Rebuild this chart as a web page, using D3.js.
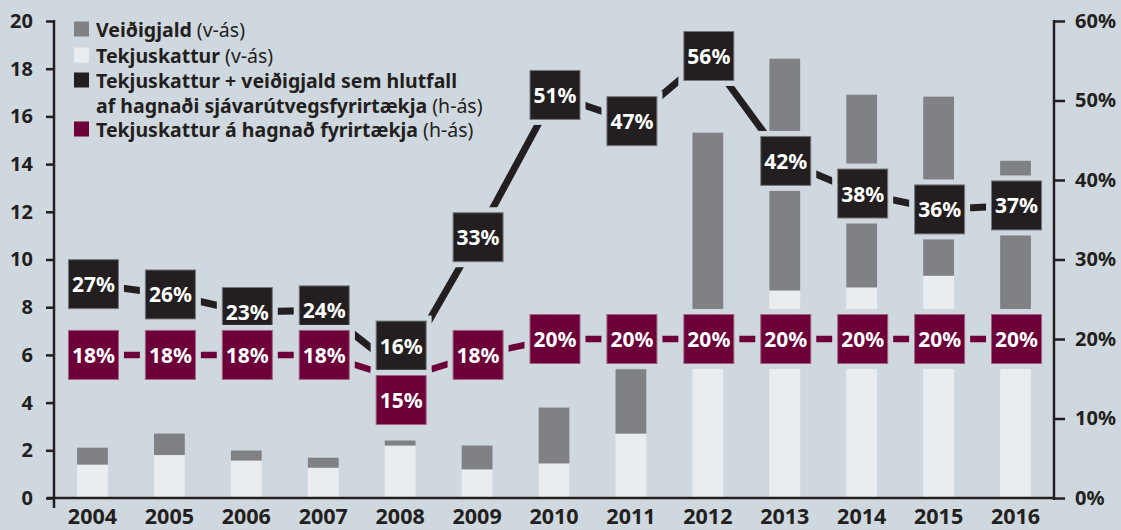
<!DOCTYPE html>
<html>
<head>
<meta charset="utf-8">
<script src="https://cdn.jsdelivr.net/npm/d3@7"></script>
<style>
html,body{margin:0;padding:0;background:#cfd8de;}
svg{display:block;}
text{font-family:"Noto Sans",Lato,sans-serif;}
</style>
</head>
<body>
<svg id="chart" width="1121" height="530"></svg>
<script>
// ---- data ----
const years = ["2004","2005","2006","2007","2008","2009","2010","2011","2012","2013","2014","2015","2016"];
const tekjuskattur = [1.40, 1.80, 1.57, 1.27, 2.20, 1.20, 1.45, 2.70, 7.00, 8.70, 8.83, 9.32, 7.50];
const veidigjald   = [0.71, 0.90, 0.42, 0.42, 0.21, 1.00, 2.34, 2.70, 8.32, 9.72, 8.08, 7.51, 6.64];
const hlutfallSjavar = [26.9, 25.6, 23.4, 23.6, 16.0, 32.8, 50.7, 47.4, 55.6, 42.4, 38.3, 36.3, 36.8];
const skatthlutfall  = [18, 18, 18, 18, 15, 18, 20, 20, 20, 20, 20, 20, 20];
const leftTicks = [0, 2, 4, 6, 8, 10, 12, 14, 16, 18, 20];
const rightTicks = [0, 10, 20, 30, 40, 50, 60];
const legendItems = [
  {name: "Veiðigjald", note: " (v-ás)", color: "#808184"},
  {name: "Tekjuskattur", note: " (v-ás)", color: "#e9edef"},
  {name: "Tekjuskattur + veiðigjald sem hlutfall", name2: "af hagnaði sjávarútvegsfyrirtækja", note: " (h-ás)", color: "#231f20"},
  {name: "Tekjuskattur á hagnað fyrirtækja", note: " (h-ás)", color: "#6d0038"}
];

// ---- setup ----
const BG = "#cfd8de", INK = "#231f20", GRAY = "#808184", LIGHT = "#e9edef", PURPLE = "#6d0038";
const FONT = "'Noto Sans', Lato, sans-serif";
const svg = d3.select("#chart");
svg.append("rect").attr("width", 1121).attr("height", 530).attr("fill", BG);

const x = d3.scaleBand().domain(years).range([54, 1054]).paddingInner(0.6).paddingOuter(0.3);
const cx = d => x(d) + x.bandwidth() / 2;
const yL = d3.scaleLinear().domain([0, 20]).range([498, 21]);
const yR = d3.scaleLinear().domain([0, 60]).range([498, 21]);

// ---- bars ----
const bars = svg.append("g");
years.forEach((yr, i) => {
  const t = tekjuskattur[i], v = veidigjald[i];
  bars.append("rect").attr("x", x(yr)).attr("width", x.bandwidth())
    .attr("y", yL(t)).attr("height", yL(0) - yL(t)).attr("fill", LIGHT);
  bars.append("rect").attr("x", x(yr)).attr("width", x.bandwidth())
    .attr("y", yL(t + v)).attr("height", yL(t) - yL(t + v)).attr("fill", GRAY);
});

// ---- axes ----
const axL = svg.append("g").attr("transform", "translate(54,0)")
  .call(d3.axisLeft(yL).tickValues(leftTicks).tickSize(8).tickSizeOuter(0).tickPadding(13).tickFormat(d3.format("d")));
const axR = svg.append("g").attr("transform", "translate(1054,0)")
  .call(d3.axisRight(yR).tickValues(rightTicks).tickSize(11).tickSizeOuter(0).tickPadding(10).tickFormat(d => d + "%"));
[axL, axR].forEach(a => {
  a.select(".domain").remove();
  a.selectAll(".tick line").attr("stroke", INK).attr("stroke-width", 2.5);
  a.selectAll("text").attr("fill", INK).style("font-size", "20px").style("font-weight", "700").style("font-family", FONT);
});
// vertical axis lines
svg.append("line").attr("x1", 54).attr("x2", 54).attr("y1", 20).attr("y2", 508).attr("stroke", INK).attr("stroke-width", 2.5);
svg.append("line").attr("x1", 1054).attr("x2", 1054).attr("y1", 20).attr("y2", 500).attr("stroke", INK).attr("stroke-width", 2.5);
// baseline
svg.append("line").attr("x1", 47).attr("x2", 1054).attr("y1", 498).attr("y2", 498).attr("stroke", INK).attr("stroke-width", 2.5);
// year labels
const axB = svg.append("g").attr("transform", "translate(0,498)")
  .call(d3.axisBottom(x).tickSize(0).tickPadding(11));
axB.select(".domain").remove();
axB.selectAll("text").attr("fill", INK).style("font-size", "21.5px").style("font-weight", "700").style("font-family", FONT);

// ---- lines ----
const lineBlack = d3.line().x((d, i) => cx(years[i])).y(d => yR(d));
svg.append("path").attr("d", lineBlack(hlutfallSjavar)).attr("fill", "none")
  .attr("stroke", INK).attr("stroke-width", 7);
svg.append("path").attr("d", lineBlack(skatthlutfall)).attr("fill", "none")
  .attr("stroke", PURPLE).attr("stroke-width", 6.5);

// ---- label boxes ----
const BW = 50, BH = 49, HALO = 5.5;
const blackY = hlutfallSjavar.map(v => yR(v));
const purpleY = skatthlutfall.map(v => yR(v));
// resolve collisions: push overlapping boxes apart
years.forEach((yr, i) => {
  const need = BH + HALO;
  if (Math.abs(purpleY[i] - blackY[i]) < 20) {
    const mid = (purpleY[i] + blackY[i]) / 2 - 2;
    blackY[i] = mid - need / 2;
    purpleY[i] = mid + need / 2;
  }
});
function drawBoxes(vals, ys, fill, border) {
  const g = svg.append("g");
  vals.forEach((v, i) => {
    const bx = cx(years[i]) - BW / 2 + 1, by = ys[i] - BH / 2;
    g.append("rect").attr("x", bx - HALO).attr("y", by - HALO)
      .attr("width", BW + 2 * HALO).attr("height", BH + 2 * HALO).attr("fill", BG);
    g.append("rect").attr("x", bx).attr("y", by).attr("width", BW).attr("height", BH)
      .attr("fill", fill).attr("stroke", border).attr("stroke-width", 1);
    g.append("text").attr("x", bx + BW / 2).attr("y", by + BH / 2)
      .attr("text-anchor", "middle").attr("dominant-baseline", "central")
      .attr("fill", "#ffffff").style("font-size", "21px").style("font-weight", "700")
      .text(Math.round(v) + "%");
  });
}
drawBoxes(hlutfallSjavar, blackY, INK, "#77787b");
drawBoxes(skatthlutfall, purpleY, PURPLE, "#a0637f");

// ---- legend ----
const lg = svg.append("g").attr("transform", "translate(74,0)");
const rowY = [29, 55, 80, 104.5, 129];
let row = 0;
legendItems.forEach(item => {
  const yy = rowY[row];
  lg.append("rect").attr("x", 0).attr("y", yy - 7.5).attr("width", 15).attr("height", 15).attr("fill", item.color);
  const t = lg.append("text").attr("x", 22).attr("y", yy).attr("dominant-baseline", "central")
    .attr("fill", INK).style("font-size", "19.5px");
  t.append("tspan").style("font-weight", "700").text(item.name);
  if (item.name2) {
    row++;
    const t2 = lg.append("text").attr("x", 22).attr("y", rowY[row]).attr("dominant-baseline", "central")
      .attr("fill", INK).style("font-size", "19.5px");
    t2.append("tspan").style("font-weight", "700").text(item.name2);
    t2.append("tspan").style("font-weight", "400").text(item.note);
  } else {
    t.append("tspan").style("font-weight", "400").text(item.note);
  }
  row++;
});
</script>
</body>
</html>
